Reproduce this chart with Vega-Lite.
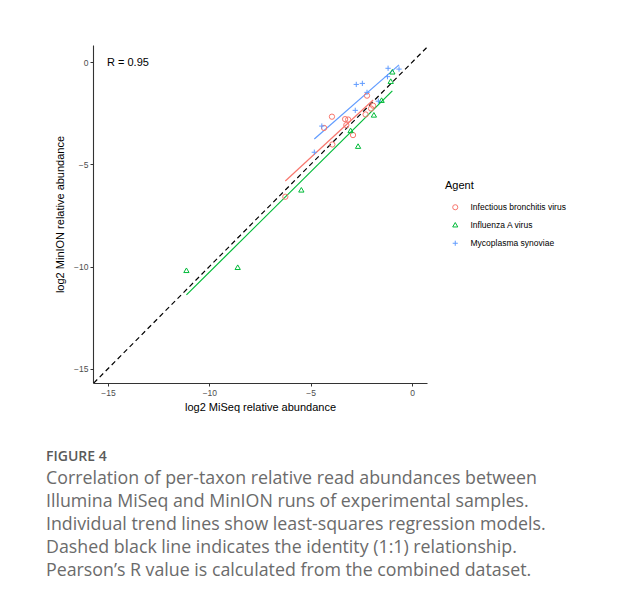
{
  "$schema": "https://vega.github.io/schema/vega-lite/v6.json",
  "width": 334,
  "height": 338,
  "autosize": {"type": "none"},
  "padding": {"left": 93, "top": 45, "right": 196, "bottom": 218},
  "background": "white",
  "config": {
    "view": {"stroke": null},
    "font": "Liberation Sans",
    "axis": {
      "grid": false,
      "domainColor": "#333333",
      "domainWidth": 1.1,
      "tickColor": "#333333",
      "tickSize": 3,
      "tickWidth": 1,
      "labelColor": "#4d4d4d",
      "labelFontSize": 8.5,
      "labelFont": "Liberation Sans",
      "labelPadding": 2,
      "titleFont": "Liberation Sans",
      "titleFontSize": 11,
      "titleFontWeight": "normal",
      "titleColor": "#000000"
    }
  },
  "title": {
    "text": "FIGURE 4",
    "subtitle": [
      "Correlation of per-taxon relative read abundances between",
      "Illumina MiSeq and MinION runs of experimental samples.",
      "Individual trend lines show least-squares regression models.",
      "Dashed black line indicates the identity (1:1) relationship.",
      "Pearson’s R value is calculated from the combined dataset."
    ],
    "orient": "bottom",
    "anchor": "start",
    "frame": "group",
    "dx": -47,
    "offset": 37,
    "font": "Open Sans",
    "fontSize": 14,
    "fontWeight": 600,
    "color": "#5a5a5a",
    "subtitleFont": "Open Sans",
    "subtitleFontSize": 17.8,
    "subtitleColor": "#6b6b6b",
    "subtitleLineHeight": 23,
    "subtitlePadding": 6
  },
  "datasets": {
    "main": [
      {"Agent": "Infectious bronchitis virus", "MiSeq": -3.95, "MinION": -2.66},
      {"Agent": "Infectious bronchitis virus", "MiSeq": -4.34, "MinION": -3.21},
      {"Agent": "Infectious bronchitis virus", "MiSeq": -3.30, "MinION": -2.78},
      {"Agent": "Infectious bronchitis virus", "MiSeq": -3.15, "MinION": -2.80},
      {"Agent": "Infectious bronchitis virus", "MiSeq": -3.24, "MinION": -3.07},
      {"Agent": "Infectious bronchitis virus", "MiSeq": -2.91, "MinION": -3.56},
      {"Agent": "Infectious bronchitis virus", "MiSeq": -3.93, "MinION": -4.02},
      {"Agent": "Infectious bronchitis virus", "MiSeq": -6.25, "MinION": -6.58},
      {"Agent": "Infectious bronchitis virus", "MiSeq": -2.22, "MinION": -1.63},
      {"Agent": "Infectious bronchitis virus", "MiSeq": -2.29, "MinION": -2.55},
      {"Agent": "Infectious bronchitis virus", "MiSeq": -2.02, "MinION": -2.26},
      {"Agent": "Infectious bronchitis virus", "MiSeq": -1.92, "MinION": -2.12},
      {"Agent": "Influenza A virus", "MiSeq": -11.13, "MinION": -10.18},
      {"Agent": "Influenza A virus", "MiSeq": -8.60, "MinION": -10.03},
      {"Agent": "Influenza A virus", "MiSeq": -5.46, "MinION": -6.24},
      {"Agent": "Influenza A virus", "MiSeq": -3.03, "MinION": -3.33},
      {"Agent": "Influenza A virus", "MiSeq": -2.66, "MinION": -4.10},
      {"Agent": "Influenza A virus", "MiSeq": -1.88, "MinION": -2.57},
      {"Agent": "Influenza A virus", "MiSeq": -1.50, "MinION": -1.85},
      {"Agent": "Influenza A virus", "MiSeq": -1.05, "MinION": -0.92},
      {"Agent": "Influenza A virus", "MiSeq": -0.97, "MinION": -0.46},
      {"Agent": "Mycoplasma synoviae", "MiSeq": -4.82, "MinION": -4.40},
      {"Agent": "Mycoplasma synoviae", "MiSeq": -4.45, "MinION": -3.12},
      {"Agent": "Mycoplasma synoviae", "MiSeq": -2.75, "MinION": -1.08},
      {"Agent": "Mycoplasma synoviae", "MiSeq": -2.45, "MinION": -1.03},
      {"Agent": "Mycoplasma synoviae", "MiSeq": -2.22, "MinION": -1.47},
      {"Agent": "Mycoplasma synoviae", "MiSeq": -2.80, "MinION": -2.35},
      {"Agent": "Mycoplasma synoviae", "MiSeq": -1.66, "MinION": -1.90},
      {"Agent": "Mycoplasma synoviae", "MiSeq": -1.18, "MinION": -0.29},
      {"Agent": "Mycoplasma synoviae", "MiSeq": -1.21, "MinION": -0.70},
      {"Agent": "Mycoplasma synoviae", "MiSeq": -0.64, "MinION": -0.33}
    ],
    "identity": [
      {"MiSeq": -16, "MinION": -16},
      {"MiSeq": 1, "MinION": 1}
    ],
    "annot": [
      {"MiSeq": -15.05, "MinION": -0.05, "label": "R = 0.95"}
    ]
  },
  "encoding": {
    "x": {
      "field": "MiSeq",
      "type": "quantitative",
      "title": "log2 MiSeq relative abundance",
      "scale": {"domain": [-15.74, 0.74], "nice": false, "zero": false},
      "axis": {"values": [-15, -10, -5, 0], "titlePadding": 5}
    },
    "y": {
      "field": "MinION",
      "type": "quantitative",
      "title": "log2 MinION relative abundance",
      "scale": {"domain": [-15.7, 0.85], "nice": false, "zero": false},
      "axis": {"values": [-15, -10, -5, 0], "titlePadding": 8}
    }
  },
  "resolve": {"legend": {"color": "independent", "shape": "independent"}},
  "layer": [
    {
      "data": {"name": "identity"},
      "mark": {"type": "line", "color": "#000000", "strokeWidth": 1.2, "strokeDash": [5, 3.5], "clip": true}
    },
    {
      "data": {"name": "main"},
      "transform": [{"regression": "MinION", "on": "MiSeq", "groupby": ["Agent"]}],
      "mark": {"type": "line", "strokeWidth": 1.2},
      "encoding": {
        "color": {"field": "Agent", "type": "nominal", "legend": null,
          "scale": {"domain": ["Infectious bronchitis virus", "Influenza A virus", "Mycoplasma synoviae"], "range": ["#F8766D", "#00BA38", "#619CFF"]}}
      }
    },
    {
      "data": {"name": "main"},
      "mark": {"type": "point", "filled": false, "strokeWidth": 1, "size": 28, "opacity": 1},
      "encoding": {
        "color": {"field": "Agent", "type": "nominal",
          "scale": {"domain": ["Infectious bronchitis virus", "Influenza A virus", "Mycoplasma synoviae"], "range": ["#F8766D", "#00BA38", "#619CFF"]},
          "legend": {
            "title": "Agent",
            "orient": "none",
            "legendX": 352,
            "legendY": 135,
            "titleFontSize": 11,
            "titleFontWeight": "normal",
            "titleColor": "#000000",
            "titlePadding": 12,
            "labelFontSize": 8.5,
            "labelColor": "#000000",
            "labelOffset": 11,
            "symbolOffset": 6,
            "symbolSize": 26,
            "symbolStrokeWidth": 1,
            "rowPadding": 8.5
          }
        },
        "shape": {"field": "Agent", "type": "nominal",
          "scale": {"domain": ["Infectious bronchitis virus", "Influenza A virus", "Mycoplasma synoviae"], "range": ["circle", "triangle-up", "M-1,0H1M0,-1V1"]},
          "legend": {
            "title": "Agent",
            "orient": "none",
            "legendX": 352,
            "legendY": 135,
            "titleFontSize": 11,
            "titleFontWeight": "normal",
            "titleColor": "#000000",
            "titlePadding": 12,
            "labelFontSize": 8.5,
            "labelColor": "#000000",
            "labelOffset": 11,
            "symbolOffset": 6,
            "symbolSize": 26,
            "symbolStrokeWidth": 1,
            "rowPadding": 8.5
          }
        }
      }
    },
    {
      "data": {"name": "annot"},
      "mark": {"type": "text", "align": "left", "baseline": "middle", "fontSize": 11, "color": "#000000", "font": "Liberation Sans"},
      "encoding": {"text": {"field": "label"}}
    }
  ]
}
